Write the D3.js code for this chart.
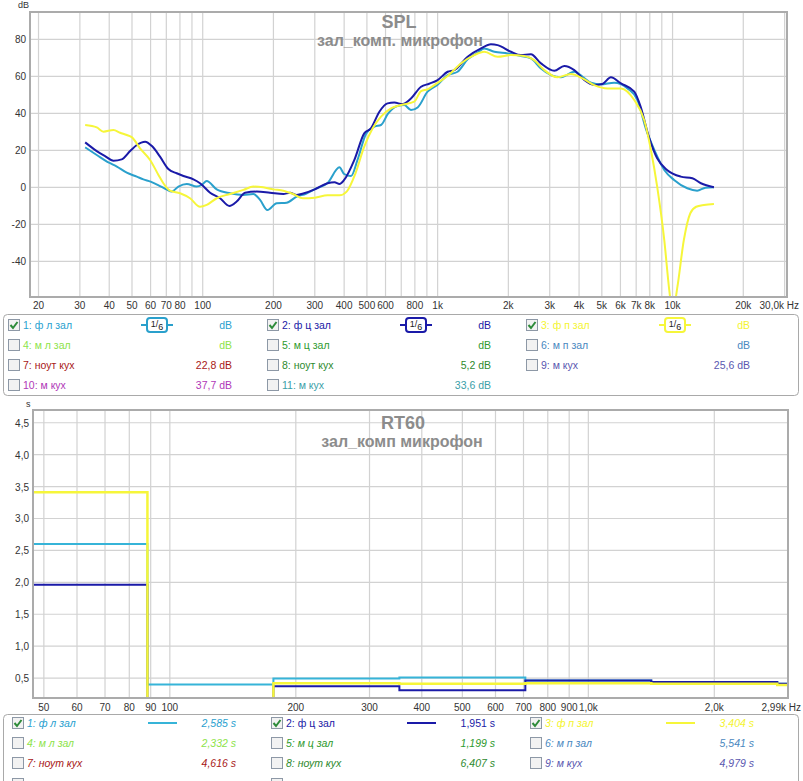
<!DOCTYPE html>
<html lang="ru">
<head>
<meta charset="UTF-8">
<title>SPL / RT60</title>
<script src="https://cdn.jsdelivr.net/npm/d3@7"></script>
<style>
  body { margin: 0; background: #fff; }
  svg { display: block; font-family: "Liberation Sans", Arial, sans-serif; }
</style>
</head>
<body>
<div id="chart"></div>
<script>
// ---- SPL data: [Hz, dB] ----
const spl1 = [[31.6,21.6],[35.4,17.5],[39.9,13.3],[43.1,11.2],[47.5,7.9],[52.4,5.8],[55.9,4.3],[60,3.1],[65.8,0.7],[70,-1.1],[73.8,-2.3],[78.8,0.4],[85.5,1.8],[94.3,0.4],[99,1.3],[104,3.4],[114.7,-1.1],[130.7,-3.2],[149,-4.1],[164.3,-3.6],[175.4,-6.8],[188.5,-12.3],[206.5,-8.6],[227.6,-8.3],[251.3,-5],[275,-3.5],[300,-1],[341,2.5],[382,10.8],[400,7.2],[428,6.1],[456,14.8],[496,29],[538,32.8],[574,33.7],[616,40],[674,44],[721,44.5],[770,41.8],[822,43.2],[906,51.7],[1000,55.5],[1103,60.7],[1216,62.5],[1342,69.2],[1480,72.8],[1580,75.1],[1743,73.3],[1985,72.4],[2263,71],[2494,69.7],[2753,64.3],[3037,60.7],[3349,59.5],[3816,62.5],[4140,59.8],[4497,56.6],[4956,55.7],[5640,56.6],[6430,53.5],[7090,47.2],[7690,31.9],[8360,20.2],[9220,9.4],[10150,4],[11550,-0.5],[12730,-1.8],[13810,-0.2],[15000,0]];
const spl2 = [[31.6,24.3],[35.4,19.6],[38.4,16.9],[41.7,14.4],[45.2,15.1],[49.1,19.6],[52.4,22.9],[56.9,24.7],[60.8,22.3],[65.8,16.6],[71.4,9.9],[77.5,7.6],[82.8,6.1],[91.3,4.3],[97.4,2.2],[107.5,-2.9],[118.5,-5.9],[129.8,-10.1],[139.5,-7.7],[151.5,-2.9],[169.8,-2.3],[193.3,-2.9],[220.4,-3.6],[235.3,-2.9],[251.3,-4.1],[270,-3.2],[300,-1.1],[340,2.2],[364,2.7],[382,1.8],[400,4],[442,14.8],[487,29.2],[520,31.9],[565,40.9],[612,45.4],[654,45.8],[710,45],[770,48],[850,54.4],[920,56],[1000,58],[1103,62.5],[1178,63.4],[1342,70.6],[1530,75.1],[1686,77.3],[1800,76.9],[2052,73.3],[2263,71.5],[2494,72],[2753,67],[3137,63],[3459,65.6],[3816,63.4],[4207,58],[4640,55.3],[5030,55.9],[5463,59.5],[6030,56.2],[6870,51.7],[7310,43.6],[7920,27.4],[8600,15.7],[9470,9.4],[10830,5.8],[12140,4.9],[13200,2.2],[15000,0]];
const spl3 = [[31.6,33.7],[35.4,32.4],[37.8,30.1],[41.7,31],[44.5,29.5],[47.5,28.3],[50,27],[54.1,21.1],[59.7,14.8],[64.8,6.7],[68,2.2],[72.6,-1.8],[80.1,-3.2],[88.3,-5.9],[97.4,-10.5],[104,-9.5],[114.7,-5.9],[130.7,-3.6],[149,-1.4],[164.3,0.4],[180.8,0],[200,-1.1],[220.4,-1.8],[242.6,-3.6],[267,-5.9],[300,-5.6],[340,-4.3],[382,-4.3],[410,-2.3],[447,7.6],[487,22],[529,31.9],[574,38.2],[633,42.7],[699,44.5],[795,46.3],[850,52],[906,53],[1000,56.5],[1103,60.2],[1256,67],[1432,71.5],[1580,73.3],[1800,70.6],[2052,71.5],[2338,71],[2576,68.8],[2843,63.4],[3240,59.5],[3690,61.3],[4140,58.9],[4640,55.3],[5290,53.5],[6030,53.5],[6870,47.2],[7570,36.4],[8090,20.2],[8600,0.4],[9220,-28.5],[9680,-55.5],[10000,-68],[10490,-53.7],[11170,-28.5],[11900,-14],[12600,-10.5],[13600,-9.5],[15000,-9]];

const splYTicks = [80, 60, 40, 20, 0, -20, -40];
const splXTicks = [20,30,40,50,60,70,80,100,200,300,400,500,600,800,1000,2000,3000,4000,5000,6000,7000,8000,10000,20000];
const splXLabels = ["20","30","40","50","60","70","80","100","200","300","400","500","600","800","1k","2k","3k","4k","5k","6k","7k","8k","10k","20k"];

// ---- RT60 data: octave band edges (Hz) and RT60 per band (s) ----
const rtEdges = [44.2, 88.4, 176.8, 353.6, 707.1, 1414, 2828, 5657];
const rt1 = [2.60, 0.40, 0.495, 0.51, 0.46, 0.44, 0.41];
const rt2 = [1.96, 0.05, 0.37, 0.31, 0.46, 0.44, 0.41];
const rt3 = [3.41, 0.05, 0.42, 0.41, 0.42, 0.41, 0.39];

const rtYTicks = [4.5, 4.0, 3.5, 3.0, 2.5, 2.0, 1.5, 1.0, 0.5];
const rtXTicks = [50,60,70,80,90,100,200,300,400,500,600,700,800,900,1000,2000];
const rtXLabels = ["50","60","70","80","90","100","200","300","400","500","600","700","800","900","1,0k","2,0k"];

// ---- legends ----
const splLegend = [
  ["1: ф л зал", "dB", "#2a9fcf", true],
  ["2: ф ц зал", "dB", "#1a1aa6", true],
  ["3: ф п зал", "dB", "#f4f430", true],
  ["4: м л зал", "dB", "#8ee34a", false],
  ["5: м ц зал", "dB", "#2e9a2e", false],
  ["6: м п зал", "dB", "#4a88c0", false],
  ["7: ноут кух", "22,8 dB", "#a81818", false],
  ["8: ноут кух", "5,2 dB", "#2e8a2e", false],
  ["9: м кух", "25,6 dB", "#5a58b0", false],
  ["10: м кух", "37,7 dB", "#b038b8", false],
  ["11: м кух", "33,6 dB", "#3aa0a8", false]
];
const rtLegend = [
  ["1: ф л зал", "2,585 s", "#2a9fcf", true],
  ["2: ф ц зал", "1,951 s", "#1a1aa6", true],
  ["3: ф п зал", "3,404 s", "#f4f430", true],
  ["4: м л зал", "2,332 s", "#8ee34a", false],
  ["5: м ц зал", "1,199 s", "#2e9a2e", false],
  ["6: м п зал", "5,541 s", "#4a88c0", false],
  ["7: ноут кух", "4,616 s", "#a81818", false],
  ["8: ноут кух", "6,407 s", "#2e8a2e", false],
  ["9: м кух", "4,979 s", "#5a58b0", false]
];

const colors = ["#2aa0cc", "#1a1aa8", "#f6f63a"];
const rtColors = ["#36b4d8", "#1a1aa8", "#f6f63a"];

const W = 803, H = 781;
const svg = d3.select("#chart").append("svg").attr("width", W).attr("height", H);

function addClip(x0, y0, x1, y1, id) {
  svg.append("clipPath").attr("id", id).append("rect")
    .attr("x", x0).attr("y", y0).attr("width", x1 - x0).attr("height", y1 - y0);
}

// ================= SPL chart =================
const sp = { l: 30, t: 12, r: 787, b: 297 };
const xs = d3.scaleLog().domain([18.4, 30700]).range([sp.l, sp.r]);
const ys = d3.scaleLinear().domain([-59.3, 94.8]).range([sp.b, sp.t]);

addClip(sp.l, sp.t, sp.r, sp.b, "clipSpl");
const gs = svg.append("g");

// grid
const splGridX = [];
[10, 100, 1000, 10000].forEach(dec => { for (let k = 1; k <= 9; k++) { const f = dec * k; if (f >= 20 && f <= 30000) splGridX.push(f); } });
gs.selectAll(".gx").data(splGridX).join("line")
  .attr("x1", d => xs(d)).attr("x2", d => xs(d)).attr("y1", sp.t).attr("y2", sp.b)
  .attr("stroke", "#d2d2d2").attr("stroke-width", 1.2);
gs.selectAll(".gy").data(splYTicks).join("line")
  .attr("x1", sp.l).attr("x2", sp.r).attr("y1", d => ys(d)).attr("y2", d => ys(d))
  .attr("stroke", "#d2d2d2").attr("stroke-width", 1.2);

// titles
gs.append("text").attr("x", 399).attr("y", 28).attr("text-anchor", "middle")
  .attr("font-size", 18).attr("font-weight", "bold").attr("fill", "#8c8c8c").text("SPL");
gs.append("text").attr("x", 400).attr("y", 46).attr("text-anchor", "middle")
  .attr("font-size", 16).attr("font-weight", "bold").attr("fill", "#8c8c8c").text("зал_комп. микрофон");

// curves
const splLine = d3.line().x(d => xs(d[0])).y(d => ys(d[1])).curve(d3.curveMonotoneX);
const gc = gs.append("g").attr("clip-path", "url(#clipSpl)");
[spl1, spl2, spl3].forEach((s, i) => {
  gc.append("path").datum(s).attr("d", splLine).attr("fill", "none")
    .attr("stroke", colors[i]).attr("stroke-width", 2).attr("stroke-linejoin", "round");
});

// frame
gs.append("rect").attr("x", sp.l).attr("y", sp.t).attr("width", sp.r - sp.l).attr("height", sp.b - sp.t)
  .attr("fill", "none").attr("stroke", "#ababab").attr("stroke-width", 2);

// axes labels
gs.selectAll(".yl").data(splYTicks).join("text")
  .attr("x", 26).attr("y", d => ys(d) + 4).attr("text-anchor", "end")
  .attr("font-size", 10).attr("fill", "#333").text(d => d);
gs.append("text").attr("x", 18).attr("y", 8).attr("font-size", 9).attr("fill", "#333").text("dB");
gs.selectAll(".xl").data(splXTicks).join("text")
  .attr("x", d => xs(d)).attr("y", 309).attr("text-anchor", "middle")
  .attr("font-size", 10).attr("fill", "#333").text((d, i) => splXLabels[i]);
gs.append("text").attr("x", 799).attr("y", 309).attr("text-anchor", "end")
  .attr("font-size", 10).attr("fill", "#333").text("30,0k Hz");

// ================= RT60 chart =================
const rp = { l: 33, t: 410, r: 788, b: 698 };
const xr = d3.scaleLog().domain([47.1, 3000]).range([rp.l, rp.r]);
const yr = d3.scaleLinear().domain([0.1875, 4.70]).range([rp.b, rp.t]);

addClip(rp.l, rp.t, rp.r, rp.b, "clipRt");
const gr = svg.append("g");

const rtGridX = [];
[10, 100, 1000].forEach(dec => { for (let k = 1; k <= 9; k++) { const f = dec * k; if (f >= 50 && f <= 2000) rtGridX.push(f); } });
gr.selectAll(".gx").data(rtGridX).join("line")
  .attr("x1", d => xr(d)).attr("x2", d => xr(d)).attr("y1", rp.t).attr("y2", rp.b)
  .attr("stroke", "#d2d2d2").attr("stroke-width", 1.2);
gr.selectAll(".gy").data(rtYTicks).join("line")
  .attr("x1", rp.l).attr("x2", rp.r).attr("y1", d => yr(d)).attr("y2", d => yr(d))
  .attr("stroke", "#d2d2d2").attr("stroke-width", 1.2);

gr.append("text").attr("x", 403).attr("y", 429).attr("text-anchor", "middle")
  .attr("font-size", 18).attr("font-weight", "bold").attr("fill", "#8c8c8c").text("RT60");
gr.append("text").attr("x", 402).attr("y", 447).attr("text-anchor", "middle")
  .attr("font-size", 16).attr("font-weight", "bold").attr("fill", "#8c8c8c").text("зал_комп микрофон");

const rtLine = d3.line().x(d => xr(d[0])).y(d => yr(d[1])).curve(d3.curveStepAfter);
const grc = gr.append("g").attr("clip-path", "url(#clipRt)");
[rt1, rt2, rt3].forEach((s, i) => {
  const pts = s.map((v, j) => [rtEdges[j], v]);
  pts.push([rtEdges[rtEdges.length - 1], s[s.length - 1]]);
  grc.append("path").datum(pts).attr("d", rtLine).attr("fill", "none")
    .attr("stroke", rtColors[i]).attr("stroke-width", i === 2 ? 2.5 : 2);
});

gr.append("rect").attr("x", rp.l).attr("y", rp.t).attr("width", rp.r - rp.l).attr("height", rp.b - rp.t)
  .attr("fill", "none").attr("stroke", "#ababab").attr("stroke-width", 2);

gr.selectAll(".yl").data(rtYTicks).join("text")
  .attr("x", 29).attr("y", d => yr(d) + 4).attr("text-anchor", "end")
  .attr("font-size", 10).attr("fill", "#333").text(d => d.toFixed(1).replace(".", ","));
gr.append("text").attr("x", 26).attr("y", 407).attr("font-size", 9).attr("fill", "#333").text("s");
gr.selectAll(".xl").data(rtXTicks).join("text")
  .attr("x", d => xr(d)).attr("y", 711).attr("text-anchor", "middle")
  .attr("font-size", 10).attr("fill", "#333").text((d, i) => rtXLabels[i]);
gr.append("text").attr("x", 801).attr("y", 711).attr("text-anchor", "end")
  .attr("font-size", 10).attr("fill", "#333").text("2,99k Hz");

// ================= legends =================
const colX = [8, 267, 526];
function checkbox(g, x, y, checked) {
  g.append("rect").attr("x", x + 0.5).attr("y", y - 5.5).attr("width", 11).attr("height", 11)
    .attr("fill", "#f2f2f2").attr("stroke", "#8d98a6");
  if (checked) {
    g.append("path").attr("d", `M${x + 2.5},${y} L${x + 5},${y + 3} L${x + 9.5},${y - 3}`)
      .attr("fill", "none").attr("stroke", "#2e8b3a").attr("stroke-width", 2);
  }
}
function legendBox(y0, y1) {
  svg.append("rect").attr("x", 3.5).attr("y", y0 + 0.5).attr("width", 795).attr("height", y1 - y0)
    .attr("rx", 4).attr("fill", "#fff").attr("stroke", "#a9a9a9");
}

// SPL legend
legendBox(314, 395);
const gl = svg.append("g").attr("font-size", 10.5);
splLegend.forEach((d, i) => {
  const cx = colX[i % 3], cy = 325 + Math.floor(i / 3) * 20;
  checkbox(gl, cx, cy, d[3]);
  gl.append("text").attr("x", cx + 15).attr("y", cy + 4).attr("fill", d[2]).text(d[0]);
  gl.append("text").attr("x", cx + 224).attr("y", cy + 4).attr("text-anchor", "end").attr("fill", d[2]).text(d[1]);
  if (d[3]) {
    const ix = cx + 149;
    gl.append("line").attr("x1", ix - 16).attr("x2", ix + 16).attr("y1", cy).attr("y2", cy)
      .attr("stroke", colors[i]).attr("stroke-width", 2);
    gl.append("rect").attr("x", ix - 10).attr("y", cy - 7).attr("width", 20).attr("height", 14).attr("rx", 3)
      .attr("fill", "#fff").attr("stroke", colors[i]).attr("stroke-width", 2);
    const t = gl.append("text").attr("x", ix).attr("y", cy + 4).attr("text-anchor", "middle")
      .attr("fill", "#222").attr("font-size", 9);
    t.append("tspan").attr("dy", -2).text("1");
    t.append("tspan").attr("dy", 0).text("/");
    t.append("tspan").attr("dy", 3).text("6");
  }
});

// RT60 legend (fourth row is cut off by the window, only checkbox tops show)
legendBox(714, 800);
const gl2 = svg.append("g").attr("font-size", 10.5);
rtLegend.forEach((d, i) => {
  const cx = colX[i % 3], cy = 723 + Math.floor(i / 3) * 20;
  checkbox(gl2, cx + 4, cy, d[3]);
  const style = i === 1 ? "normal" : "italic";
  gl2.append("text").attr("x", cx + 19).attr("y", cy + 4).attr("fill", d[2]).attr("font-style", style).text(d[0]);
  gl2.append("text").attr("x", cx + 228).attr("y", cy + 4).attr("text-anchor", "end")
    .attr("fill", d[2]).attr("font-style", style).text(d[1]);
  if (d[3]) {
    gl2.append("line").attr("x1", cx + 140).attr("x2", cx + 169).attr("y1", cy).attr("y2", cy)
      .attr("stroke", rtColors[i]).attr("stroke-width", 2);
  }
});
[0, 1].forEach(c => checkbox(gl2, colX[c] + 4, 784, false));
</script>
</body>
</html>
